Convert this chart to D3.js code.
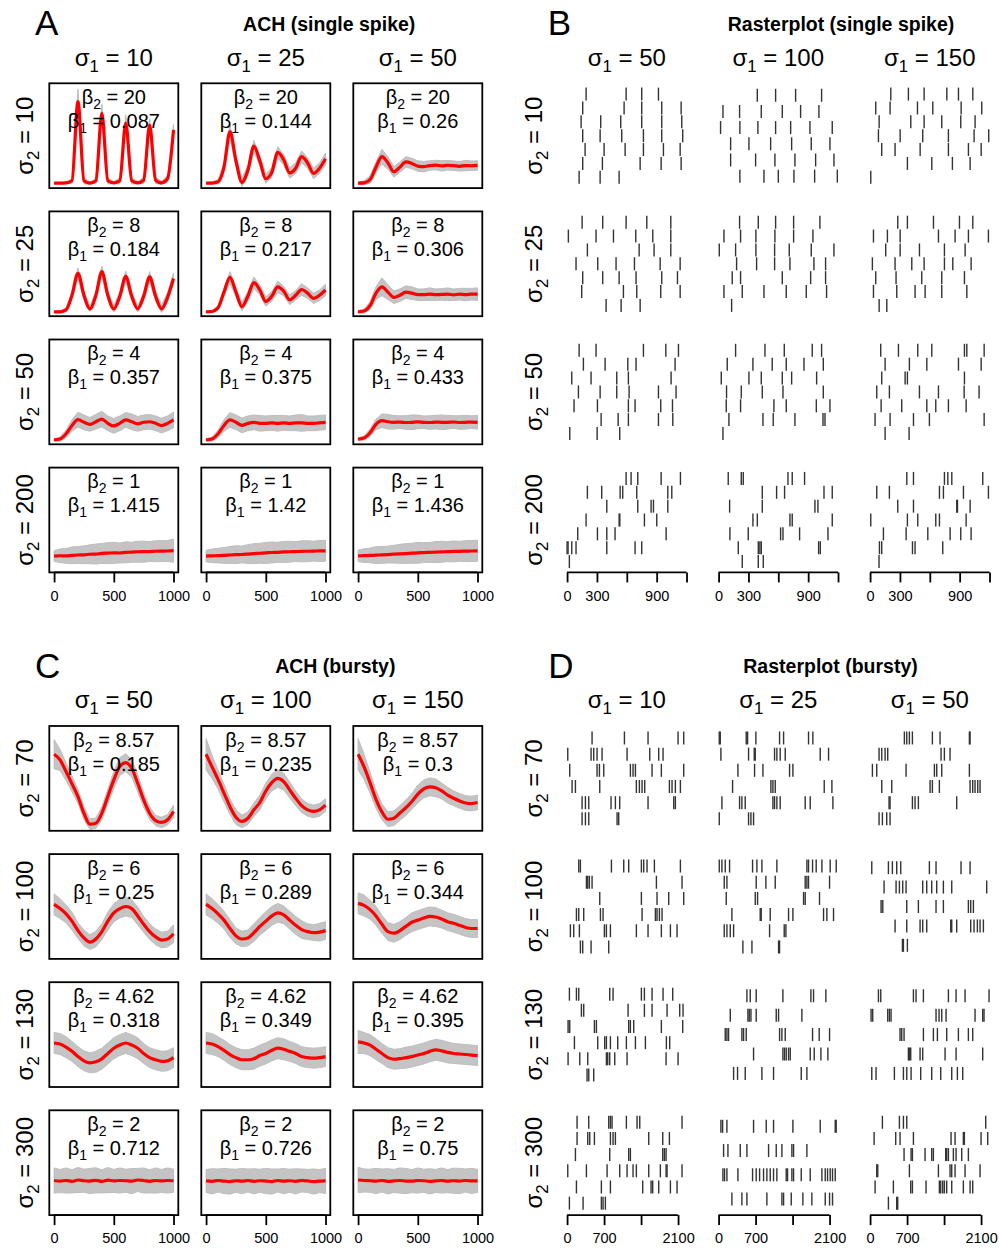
<!DOCTYPE html>
<html>
<head>
<meta charset="utf-8">
<script src="https://cdn.jsdelivr.net/npm/d3@7"></script>
<style>
body { margin: 0; background: #fff; }
svg { display: block; font-family: "Liberation Sans", Arial, Helvetica, sans-serif; }
</style>
</head>
<body>
<svg width="999" height="1248"></svg>
<script>
// ---- data ----
// ACH curves are given as fraction of panel height, sampled every 50 ms
var lags = [0,50,100,150,200,250,300,350,400,450,500,550,600,650,700,750,800,850,900,950,1000];
var achTicks = [0, 500, 1000];
var achTickLabels = ["0", "500", "1000"];

var singleSigma1 = [10, 25, 50];
var singleSigma2 = [10, 25, 50, 200];
var singleBeta2 = [20, 8, 4, 1];
var singleBeta1 = [[0.087, 0.144, 0.26], [0.184, 0.217, 0.306], [0.357, 0.375, 0.433], [1.415, 1.42, 1.436]];

var singleRed = [
  [0.048,0.048,0.05,0.07,0.825,0.07,0.048,0.07,0.714,0.07,0.05,0.07,0.62,0.07,0.05,0.075,0.6,0.075,0.05,0.09,0.556],
  [0.048,0.048,0.06,0.2,0.54,0.26,0.055,0.17,0.40,0.26,0.09,0.15,0.34,0.27,0.145,0.19,0.30,0.24,0.14,0.19,0.28],
  [0.048,0.05,0.08,0.2,0.3,0.24,0.155,0.2,0.25,0.235,0.21,0.205,0.215,0.22,0.212,0.218,0.214,0.208,0.215,0.213,0.216],
  [0.042,0.042,0.06,0.2,0.41,0.2,0.07,0.2,0.425,0.2,0.07,0.19,0.38,0.19,0.07,0.19,0.375,0.19,0.07,0.18,0.36],
  [0.042,0.045,0.08,0.23,0.37,0.23,0.09,0.19,0.32,0.25,0.14,0.19,0.28,0.24,0.155,0.2,0.255,0.22,0.17,0.2,0.25],
  [0.042,0.05,0.1,0.22,0.28,0.23,0.18,0.2,0.23,0.22,0.205,0.205,0.21,0.205,0.208,0.21,0.204,0.21,0.206,0.21,0.21],
  [0.042,0.05,0.1,0.18,0.235,0.21,0.19,0.215,0.24,0.2,0.175,0.2,0.233,0.215,0.195,0.21,0.215,0.2,0.178,0.2,0.233],
  [0.042,0.05,0.1,0.18,0.233,0.21,0.18,0.2,0.21,0.2,0.2,0.205,0.2,0.205,0.2,0.205,0.205,0.2,0.2,0.205,0.21],
  [0.05,0.06,0.11,0.19,0.225,0.215,0.21,0.212,0.208,0.21,0.214,0.21,0.208,0.212,0.21,0.21,0.213,0.208,0.21,0.212,0.21],
  [0.156,0.159,0.158,0.163,0.166,0.168,0.173,0.175,0.181,0.184,0.187,0.185,0.192,0.193,0.197,0.198,0.199,0.202,0.203,0.204,0.207],
  [0.156,0.158,0.16,0.162,0.166,0.169,0.171,0.175,0.179,0.183,0.186,0.19,0.192,0.195,0.197,0.199,0.201,0.202,0.203,0.205,0.206],
  [0.158,0.16,0.162,0.165,0.167,0.17,0.174,0.177,0.18,0.183,0.187,0.189,0.191,0.194,0.196,0.198,0.2,0.201,0.203,0.204,0.206]
];
// half-width of the grey (raw) band around the red curve
var singleNoise = [
  [0.005,0.005,0.01,0.02,0.12,0.03,0.01,0.02,0.09,0.03,0.01,0.03,0.08,0.03,0.01,0.03,0.06,0.03,0.015,0.03,0.05],
  [0.005,0.01,0.02,0.04,0.065,0.05,0.04,0.045,0.055,0.045,0.045,0.045,0.055,0.05,0.05,0.05,0.055,0.05,0.05,0.05,0.055],
  [0.01,0.02,0.035,0.05,0.07,0.06,0.05,0.05,0.05,0.05,0.05,0.05,0.045,0.045,0.05,0.045,0.045,0.045,0.05,0.045,0.045],
  [0.008,0.01,0.02,0.03,0.05,0.04,0.025,0.035,0.05,0.04,0.03,0.04,0.05,0.04,0.03,0.04,0.05,0.045,0.035,0.045,0.05],
  [0.008,0.01,0.02,0.035,0.055,0.045,0.04,0.045,0.055,0.045,0.045,0.045,0.055,0.045,0.045,0.045,0.055,0.05,0.05,0.05,0.055],
  [0.01,0.02,0.035,0.06,0.085,0.07,0.06,0.06,0.06,0.06,0.055,0.055,0.06,0.055,0.055,0.06,0.055,0.055,0.06,0.055,0.06],
  [0.01,0.02,0.035,0.055,0.07,0.07,0.065,0.07,0.075,0.07,0.07,0.07,0.07,0.075,0.07,0.07,0.07,0.07,0.07,0.07,0.075],
  [0.01,0.02,0.035,0.055,0.07,0.07,0.07,0.07,0.07,0.075,0.07,0.07,0.075,0.07,0.07,0.075,0.08,0.07,0.07,0.07,0.07],
  [0.01,0.02,0.035,0.05,0.065,0.07,0.065,0.06,0.065,0.07,0.065,0.06,0.065,0.065,0.07,0.065,0.06,0.065,0.065,0.06,0.065],
  [0.05,0.065,0.07,0.08,0.08,0.085,0.09,0.095,0.095,0.1,0.1,0.095,0.1,0.095,0.1,0.1,0.095,0.1,0.1,0.1,0.11],
  [0.055,0.065,0.07,0.075,0.08,0.085,0.08,0.09,0.095,0.095,0.1,0.1,0.095,0.1,0.1,0.095,0.1,0.1,0.095,0.1,0.1],
  [0.055,0.065,0.07,0.08,0.08,0.08,0.085,0.09,0.095,0.095,0.1,0.095,0.095,0.1,0.1,0.095,0.1,0.095,0.1,0.1,0.1]
];

var burstySigma1 = [50, 100, 150];
var burstySigma2 = [70, 100, 130, 300];
var burstyBeta2 = [8.57, 6, 4.62, 2];
var burstyBeta1 = [[0.185, 0.235, 0.3], [0.25, 0.289, 0.344], [0.318, 0.349, 0.395], [0.712, 0.726, 0.75]];

var burstyRed = [
  [0.73,0.676,0.565,0.448,0.327,0.168,0.063,0.073,0.168,0.327,0.486,0.613,0.65,0.597,0.454,0.295,0.168,0.098,0.08,0.105,0.184],
  [0.73,0.61,0.49,0.36,0.23,0.13,0.09,0.12,0.2,0.27,0.38,0.46,0.5,0.47,0.39,0.31,0.24,0.2,0.185,0.2,0.245],
  [0.73,0.61,0.46,0.3,0.18,0.11,0.12,0.17,0.22,0.28,0.35,0.4,0.42,0.41,0.38,0.34,0.31,0.285,0.265,0.26,0.27],
  [0.52,0.48,0.43,0.36,0.27,0.2,0.16,0.19,0.26,0.36,0.44,0.48,0.5,0.48,0.41,0.33,0.26,0.21,0.18,0.19,0.24],
  [0.52,0.48,0.43,0.37,0.29,0.22,0.19,0.2,0.25,0.31,0.36,0.41,0.44,0.42,0.37,0.32,0.28,0.26,0.25,0.255,0.27],
  [0.53,0.51,0.47,0.41,0.33,0.26,0.245,0.27,0.31,0.35,0.37,0.39,0.405,0.4,0.38,0.355,0.34,0.32,0.3,0.29,0.29],
  [0.42,0.41,0.38,0.34,0.29,0.25,0.23,0.24,0.27,0.32,0.37,0.4,0.42,0.4,0.37,0.32,0.28,0.26,0.245,0.25,0.28],
  [0.42,0.41,0.385,0.35,0.31,0.28,0.26,0.26,0.27,0.3,0.32,0.35,0.37,0.36,0.34,0.32,0.29,0.28,0.275,0.28,0.29],
  [0.43,0.42,0.4,0.36,0.32,0.28,0.265,0.27,0.28,0.29,0.305,0.32,0.34,0.355,0.345,0.33,0.32,0.315,0.31,0.305,0.3],
  [0.33,0.325,0.33,0.322,0.335,0.328,0.325,0.332,0.322,0.334,0.326,0.33,0.328,0.324,0.335,0.33,0.322,0.33,0.326,0.33,0.328],
  [0.326,0.322,0.33,0.325,0.32,0.328,0.324,0.33,0.322,0.328,0.325,0.32,0.33,0.324,0.328,0.322,0.33,0.326,0.32,0.325,0.326],
  [0.335,0.33,0.328,0.325,0.33,0.322,0.326,0.33,0.325,0.324,0.33,0.328,0.322,0.326,0.33,0.324,0.328,0.325,0.33,0.326,0.326]
];
var burstyNoise = [
  [0.14,0.1,0.085,0.075,0.065,0.06,0.05,0.05,0.06,0.07,0.08,0.085,0.085,0.085,0.08,0.07,0.06,0.05,0.05,0.05,0.06],
  [0.15,0.11,0.09,0.085,0.075,0.07,0.06,0.06,0.065,0.07,0.075,0.08,0.085,0.08,0.075,0.07,0.065,0.06,0.06,0.06,0.06],
  [0.15,0.12,0.1,0.085,0.075,0.07,0.07,0.07,0.075,0.075,0.085,0.085,0.085,0.085,0.075,0.075,0.07,0.07,0.07,0.07,0.07],
  [0.1,0.095,0.085,0.085,0.075,0.075,0.07,0.075,0.075,0.085,0.085,0.09,0.09,0.085,0.085,0.075,0.075,0.075,0.075,0.075,0.085],
  [0.1,0.095,0.09,0.085,0.085,0.075,0.075,0.075,0.085,0.085,0.09,0.09,0.09,0.085,0.085,0.085,0.085,0.075,0.075,0.085,0.085],
  [0.1,0.1,0.09,0.09,0.085,0.085,0.085,0.085,0.085,0.09,0.09,0.09,0.09,0.09,0.085,0.085,0.085,0.085,0.085,0.085,0.085],
  [0.1,0.1,0.1,0.095,0.095,0.095,0.095,0.1,0.1,0.1,0.1,0.1,0.1,0.1,0.1,0.095,0.095,0.095,0.095,0.095,0.095],
  [0.1,0.1,0.095,0.095,0.095,0.095,0.095,0.095,0.1,0.1,0.1,0.1,0.1,0.1,0.095,0.095,0.095,0.095,0.095,0.095,0.095],
  [0.11,0.1,0.1,0.1,0.095,0.095,0.095,0.095,0.1,0.1,0.1,0.1,0.1,0.1,0.1,0.1,0.095,0.095,0.095,0.095,0.095],
  [0.12,0.11,0.12,0.11,0.12,0.11,0.12,0.12,0.11,0.12,0.11,0.12,0.11,0.12,0.11,0.12,0.11,0.12,0.11,0.12,0.11],
  [0.11,0.12,0.11,0.12,0.12,0.11,0.12,0.11,0.12,0.11,0.12,0.12,0.11,0.12,0.11,0.12,0.11,0.11,0.12,0.11,0.12],
  [0.12,0.11,0.11,0.12,0.11,0.12,0.11,0.12,0.12,0.11,0.12,0.11,0.12,0.11,0.12,0.11,0.12,0.12,0.11,0.12,0.11]
];

// raster plots: spike times (ms), one array per line, top line first
var rasterSingleSigma1 = [50, 100, 150];
var rasterSingleSigma2 = [10, 25, 50, 200];
var rasterSingleMax = 1200;
var rasterSingleTicks = [0, 300, 600, 900, 1200];
var rasterSingleTickLabels = ["0", "300", "", "900", ""];
var rasterSingle = [
  [[191,593,750,918],[157,573,750,951,1146],[141,338,539,750,951,1152],[157,332,549,767,951,1162],[181,372,583,767,968,1136],[157,355,734,945,1146],[121,332,523]],
  [[389,573,774,1035],[44,211,429,640,824,1008],[20,214,395,573,724,918,1142],[121,305,523,734,931,1119],[121,372,566,767,975,1159],[214,456,600,757,965,1193]],
  [[208,385,543,771,888,1032],[57,201,476,630,915,1122],[91,409,543,720,911,1055],[84,302,529,787,1045,1192],[117,251,503,787,988,1116],[375,620,827,1005],[7]],
  [[151,358,593,801,1042],[13,291,466,690,861,1042],[204,724,874,1042],[90,308,492,677,935,1136],[157,358,523,693,951,1109],[147,566,700,941,1136],[392,543,734]],
  [[211,399,573,754,1018],[54,221,375,566,754,948],[7,171,375,563,710,931,1159],[181,382,563,717,958,1075],[137,221,640,925,1075],[54,238,456,680,881,1085],[131]],
  [[278,375,637,898,1032],[34,174,302,687,854,988,1189],[157,302,496,747,955],[23,251,419,543,747,831,1015],[57,261,519,720,948],[34,268,452,553,720,972],[91,168]],
  [[121,291,767,992,1119],[164,382,610,693,1085],[47,241,499,616,1045],[114,332,499,623,918,1095],[70,305,616,683,941,1059],[342,513,616,918,1062],[27,302,529]],
  [[171,466,660,941,1035],[87,345,539,680,858,1052],[27,305,429,640,734,985],[80,228,439,647,1052],[77,221,556,680,982,1119],[104,446,549,767,1049,1069],[44]],
  [[107,285,479,620,948,972,1146],[151,395,570,888,1116],[117,352,375,948],[67,194,496,687,945,1095],[111,318,570,660,787,965],[50,201,436,596,1146],[151,392]],
  [[593,643,710,945,1139],[204,348,533,559,700,1012,1052],[399,710,844,868,1012],[191,523,530,777,901],[107,305,399,482,995],[0,10,47,90,399,683,750],[23]],
  [[97,228,248,697,740,864],[439,583,663,1059,1142],[111,439,968,998],[345,389,717,740,1142],[114,298,623,647,814,1099],[198,399,415,429,1005,1022],[238,399,449]],
  [[369,436,747,781,821,1132],[67,194,697,737,938,1189],[278,436,871,878,1005],[7,375,479,660,697,965],[134,362,580,804,911,1015],[94,117,426,452,730],[90]]
];

var rasterBurstySigma1 = [10, 25, 50];
var rasterBurstySigma2 = [70, 100, 130, 300];
var rasterBurstyMax = 2260;
var rasterBurstyTicks = [0, 700, 1400, 2100];
var rasterBurstyTickLabels = ["0", "700", "", "2100"];
var rasterBursty = [
  [[473,1085,1532,2100,2207],[13,454,504,567,662,1135,1564,1734,1816],[50,567,612,694,1198,1248,1293,1608,1784,2207],[95,158,618,1311,1368,1419,1469,1936,1986,2049,2144],[284,347,410,832,914,996,1532,2018,2049],[284,347,410,946,977]],
  [[13,32,523,549,706,1154,1230,1702,1784],[44,567,675,694,1059,1103,1166,1261,1923,2081],[366,681,839,1343,1406],[265,990,1028,1072,1999,2144],[63,397,441,504,1028,1059,1103,1166,1639,1734,2163],[13,567,612,662]],
  [[649,694,744,801,1179,1324,1879,1892],[170,221,284,334,1343,1406,1513],[44,126,681,1217,1261,1356,1879],[221,410,1135,1179,1311,1892,1942,1986,2037,2081],[359,378,801,851,914,1639],[170,233,315,378]],
  [[221,252,839,1072,1166,1406,1450,1513,1652,2144],[366,391,422,473,1690,2175],[618,1406,1702,1923,2207],[177,221,315,631,681,1419,1671,1702,1747,1797],[63,126,233,706,744,820,1311,1532,1784,1955,2081],[252,296,454,788]],
  [[13,63,126,208,643,725,820,1103,1671,1702,1778,1847,1955,2112,2226],[107,158,712,895,1072,1639,1671,1702,2100],[145,694,738,1608,1639,1910],[252,788,807,977,1324,1406,1986,2049,2175],[107,158,221,284,965,1242,1274],[460,631,1135,1154]],
  [[32,347,422,504,580,1122,1248,1721,1892],[265,492,555,618,681,996,1072,1166,1261,1387,1545,2207],[208,240,694,914,1248,1387,1860,1904,1955],[473,694,946,996,1072,1526,1545,1639,1904,1967,2030,2081,2144],[612,631,706]],
  [[44,177,221,807,870,1406,1463,1608,1816,1999],[271,315,1154,1463,1608,1892,2131,2194],[19,50,517,555,1166,1198,1261,1784,2188],[139,580,712,744,820,958,1122,1293,1482,1879,1942],[19,240,391,744,769,807,902,1135,1873,2100],[378,410,504]],
  [[536,599,712,1217,1747,1797,2030],[221,555,580,612,712,1091,1135,1576],[126,158,189,441,473,523,1154,1198,1261,1778,1904,2100],[662,1217,1248,1280,1324,1356,1734,1810,1936,2068],[284,359,504,820,1040,1564,1671]],
  [[158,202,820,870,1009,1482,1627,1797,2251],[19,50,334,366,397,1248,1305,1356,1438,1986,2131,2156],[567,599,643,1009,1198,1274,1450,1671,1860,1942],[725,744,769,946,996,1419,1627,2131],[32,113,460,631,694,776,958,1166,1337,1545,1652,1753]],
  [[189,410,788,820,851,1122,1324,1375,2175],[189,391,429,517,820,870,914,1545,1810,1936],[158,807,1166,1198,1810,1841,1873],[13,366,757,996,1135,1248,1311,1545,1765,1873,1892,2175],[177,649,820,1431,1589,1620,1734,1955,2081],[44,303,649,681,725]],
  [[44,76,158,662,902,1040,1406,1923,2207,2226],[95,177,410,536,946,1091,1198,1387,1419,1671],[82,113,158,366,643,712,776,851,914,977,1040,1103,1280,1305,1387,1419,1564,1734,1955,2018,2062,2112,2156,2207],[252,441,536,914,1198,1230,1375,1595,1765,2018,2100,2156]],
  [[233,555,631,694,2188],[76,485,567,820,1532,1608,1765,1784,2100,2226],[643,776,801,1040,1166,1198,1431,1450,1482,1576,1627,1734,1860],[126,145,744,1293,1513,1545,1608,1797,2081],[95,441,769,801,1059,1311,1337,1375,1406,1450,1545,1765,1892,1942],[347,504,523]]
];

// ---- layout ----
var svg = d3.select("svg");

var boxW = 129, boxH = 104.8,
    achLeft = 49.3, rasLeft = 562.3,
    achPitch = 152, rasPitch = 151.5,
    rowTop = 83.3, rowPitch = 128.1,
    lowerOff = 642.7;

svg.append("defs").append("clipPath").attr("id", "box")
  .append("rect").attr("width", boxW).attr("height", boxH);

// symbol with subscript, e.g. sigma_1 = 10
function mathText(sel, sym, sub, rest, size) {
  var t = sel.append("text")
      .attr("font-size", size)
      .attr("text-anchor", "middle");
  t.append("tspan").text(sym);
  t.append("tspan").attr("font-size", size * 0.7).attr("dy", size * 0.25).text(sub);
  t.append("tspan").attr("dy", -size * 0.25).text(" = " + rest);
  return t;
}

function blockTitle(yOff, letter, lx, title, tx) {
  svg.append("text").attr("x", lx).attr("y", yOff + 35)
      .attr("font-size", 35).text(letter);
  svg.append("text").attr("x", tx).attr("y", yOff + 30.5)
      .attr("font-size", 19.5).attr("font-weight", "bold")
      .attr("text-anchor", "middle").text(title);
}

function headers(yOff, left, pitch, labelX, sigma1, sigma2) {
  sigma1.forEach(function(s, c) {
    mathText(svg.append("g")
        .attr("transform", "translate(" + (left + c * pitch + boxW / 2) + "," + (yOff + 65.5) + ")"),
      "\u03c3", "1", s, 24);
  });
  sigma2.forEach(function(s, r) {
    mathText(svg.append("g")
        .attr("transform", "translate(" + labelX + "," + (yOff + rowTop + r * rowPitch + boxH / 2) + ") rotate(-90)"),
      "\u03c3", "2", s, 24);
  });
}

function styleAxis(g) {
  g.attr("font-size", 14.5).attr("font-family", null);
  g.selectAll("line, path").attr("stroke", "#000").attr("stroke-width", 1.8);
  g.selectAll("text").attr("fill", "#000");
}

function drawAch(yOff, sigma1, sigma2, beta2, beta1, red, noise) {
  var x = d3.scaleLinear().domain([-40, 1040]).range([0, boxW]);
  var y = d3.scaleLinear().domain([0, 1]).range([boxH, 0]);

  var band = d3.area()
      .x(function(d) { return x(d[0]); })
      .y0(function(d) { return y(Math.max(0, d[1] - d[2])); })
      .y1(function(d) { return y(d[1] + d[2]); });
  var line = d3.line()
      .x(function(d) { return x(d[0]); })
      .y(function(d) { return y(d[1]); })
      .curve(d3.curveMonotoneX);

  sigma2.forEach(function(s2, r) {
    sigma1.forEach(function(s1, c) {
      var k = r * 3 + c;
      var pts = d3.zip(lags, red[k], noise[k]);
      var g = svg.append("g")
          .attr("transform", "translate(" + (achLeft + c * achPitch) + "," + (yOff + rowTop + r * rowPitch) + ")");
      var inner = g.append("g").attr("clip-path", "url(#box)");
      inner.append("path").datum(pts)
          .attr("d", band)
          .attr("fill", "#c4c4c4")
          .attr("stroke", "#bebebe")
          .attr("stroke-width", 1);
      inner.append("path").datum(pts)
          .attr("d", line)
          .attr("fill", "none")
          .attr("stroke", "#ff0000")
          .attr("stroke-width", 3.2);

      g.append("rect")
          .attr("width", boxW).attr("height", boxH)
          .attr("fill", "none").attr("stroke", "#000").attr("stroke-width", 1.8);

      mathText(g.append("g").attr("transform", "translate(" + boxW / 2 + ",20.6)"),
        "\u03b2", "2", beta2[r], 20);
      mathText(g.append("g").attr("transform", "translate(" + boxW / 2 + ",44.6)"),
        "\u03b2", "1", beta1[r][c], 20);

      if (r == sigma2.length - 1) {
        g.append("g")
            .attr("transform", "translate(0," + boxH + ")")
            .call(d3.axisBottom(x).tickValues(achTicks)
              .tickFormat(function(d, i) { return achTickLabels[i]; })
              .tickSize(10).tickSizeOuter(0).tickPadding(8))
            .call(styleAxis)
            .select(".domain").attr("d", "M" + x(0) + ",0H" + x(1000));
      }
    });
  });
}

function drawRaster(yOff, sigma1, sigma2, trains, tMax, ticks, tickLabels) {
  var pad = tMax * 0.04;
  var x = d3.scaleLinear().domain([-pad, tMax + pad]).range([0, boxW]);

  sigma2.forEach(function(s2, r) {
    sigma1.forEach(function(s1, c) {
      var rows = trains[r * 3 + c], n = rows.length;
      var y = d3.scaleLinear()
          .domain([0.5 - 0.04 * n, n + 0.5 + 0.04 * n])
          .range([0, boxH]);
      var g = svg.append("g")
          .attr("transform", "translate(" + (rasLeft + c * rasPitch) + "," + (yOff + rowTop + r * rowPitch) + ")");

      var spikes = [];
      rows.forEach(function(times, i) {
        times.forEach(function(t) { spikes.push({ t: t, row: i + 1 }); });
      });
      g.selectAll(".spike")
        .data(spikes)
        .enter().append("line")
          .attr("class", "spike")
          .attr("x1", function(d) { return x(d.t); })
          .attr("x2", function(d) { return x(d.t); })
          .attr("y1", function(d) { return y(d.row) - 6.5; })
          .attr("y2", function(d) { return y(d.row) + 6.5; })
          .attr("stroke", "#333")
          .attr("stroke-width", 1.4);

      if (r == sigma2.length - 1) {
        g.append("g")
            .attr("transform", "translate(0," + boxH + ")")
            .call(d3.axisBottom(x).tickValues(ticks)
              .tickFormat(function(d, i) { return tickLabels[i]; })
              .tickSize(10).tickSizeOuter(0).tickPadding(8))
            .call(styleAxis)
            .select(".domain").attr("d", "M" + x(0) + ",0H" + x(ticks[ticks.length - 1]));
      }
    });
  });
}

// A: ACH single spike
blockTitle(0, "A", 35, "ACH (single spike)", 329.2);
headers(0, achLeft, achPitch, 33.3, singleSigma1, singleSigma2);
drawAch(0, singleSigma1, singleSigma2, singleBeta2, singleBeta1, singleRed, singleNoise);

// B: raster single spike
blockTitle(0, "B", 547.7, "Rasterplot (single spike)", 841);
headers(0, rasLeft, rasPitch, 541.7, rasterSingleSigma1, rasterSingleSigma2);
drawRaster(0, rasterSingleSigma1, rasterSingleSigma2, rasterSingle, rasterSingleMax, rasterSingleTicks, rasterSingleTickLabels);

// C: ACH bursty
blockTitle(lowerOff, "C", 35, "ACH (bursty)", 335.3);
headers(lowerOff, achLeft, achPitch, 33.3, burstySigma1, burstySigma2);
drawAch(lowerOff, burstySigma1, burstySigma2, burstyBeta2, burstyBeta1, burstyRed, burstyNoise);

// D: raster bursty
blockTitle(lowerOff, "D", 548.3, "Rasterplot (bursty)", 830.5);
headers(lowerOff, rasLeft, rasPitch, 541.7, rasterBurstySigma1, rasterBurstySigma2);
drawRaster(lowerOff, rasterBurstySigma1, rasterBurstySigma2, rasterBursty, rasterBurstyMax, rasterBurstyTicks, rasterBurstyTickLabels);
</script>
</body>
</html>
